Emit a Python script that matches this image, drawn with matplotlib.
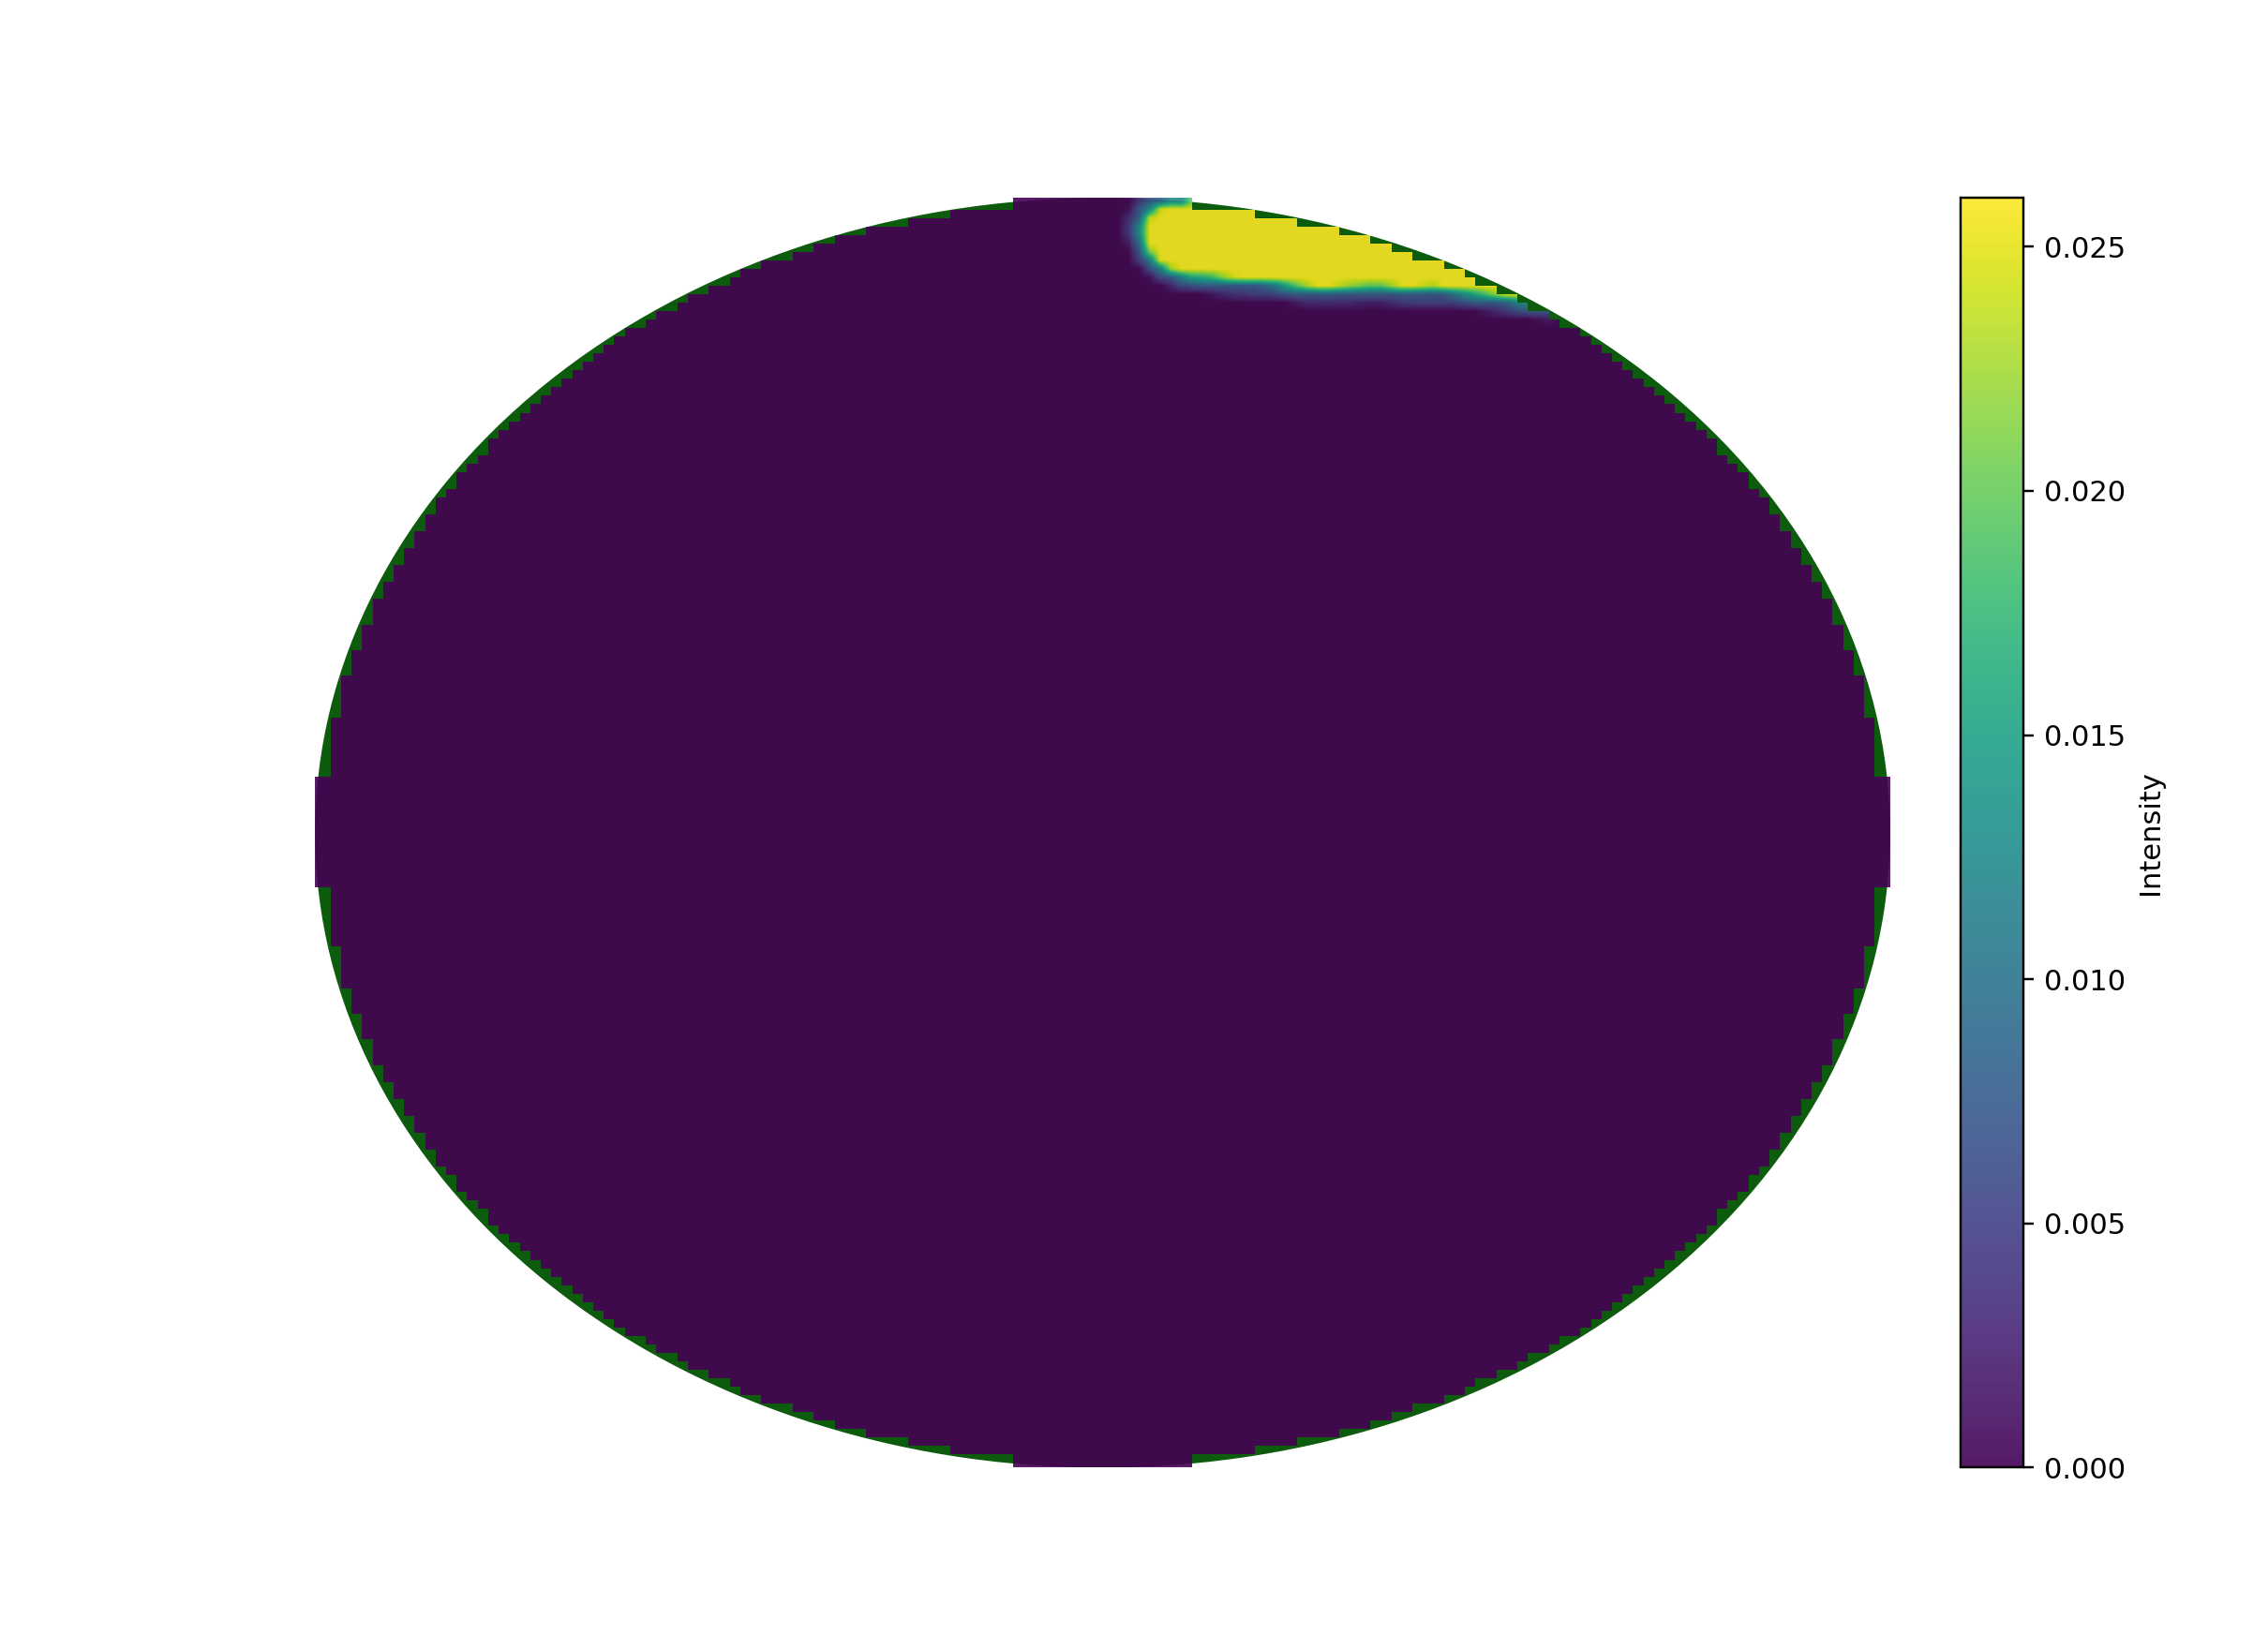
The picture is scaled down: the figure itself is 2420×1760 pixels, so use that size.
import numpy as np
import matplotlib.pyplot as plt
from matplotlib.patches import Ellipse
from matplotlib.path import Path

# grid and domain
nx, ny = 150, 150
half_w, half_h = 1.24, 1.0
mask_w = 1.2371          # slightly tighter in x than the drawn ellipse
vmin, vmax = 0.0, 0.026

# hot spot (domain units)
core_val = 0.026
core_x = [0.0598, 0.0643, 0.0746, 0.0923, 0.1145, 0.1366, 0.1514, 0.4764, 0.7718,
          0.7127, 0.6610, 0.6477, 0.6034, 0.5473, 0.5177, 0.4793, 0.4335, 0.3774,
          0.3493, 0.3198, 0.2637, 0.2075, 0.1662, 0.1322, 0.1071, 0.0820, 0.0657]
core_y = [0.9468, 0.9631, 0.9778, 0.9882, 0.9911, 0.9897, 1.0236, 0.9719, 0.8981,
          0.8390, 0.8360, 0.8375, 0.8449, 0.8523, 0.8552, 0.8523, 0.8582, 0.8552,
          0.8523, 0.8552, 0.8656, 0.8671, 0.8730, 0.8744, 0.8818, 0.8966, 0.9202]

# faint rim around it
halo_val = 0.007
halo_x = [0.0391, 0.0436, 0.0569, 0.0805, 0.1514, 0.4764, 0.8013, 0.7054,
          0.6477, 0.6034, 0.5473, 0.4793, 0.4335, 0.3774, 0.3198, 0.2637,
          0.2075, 0.1662, 0.1219, 0.0849, 0.0554]
halo_y = [0.9468, 0.9719, 0.9941, 1.0103, 1.0236, 0.9719, 0.8833, 0.8095,
          0.8168, 0.8242, 0.8316, 0.8316, 0.8375, 0.8346, 0.8346, 0.8449,
          0.8464, 0.8523, 0.8567, 0.8715, 0.8981]

# pixel centres
xe = np.linspace(-half_w, half_w, nx + 1)
ye = np.linspace(half_h, -half_h, ny + 1)
xc = (xe[:-1] + xe[1:]) / 2
yc = (ye[:-1] + ye[1:]) / 2
dx = xe[1] - xe[0]
dy = ye[0] - ye[1]
X, Y = np.meshgrid(xc, yc)


def coverage(px, py, k=8):
    # share of each cell covered by the outline
    path = Path(np.column_stack([px, py]))
    off = (np.arange(k) + 0.5) / k - 0.5
    cov = np.zeros(X.shape)
    for ox in off:
        for oy in off:
            p = np.column_stack([(X + ox * dx).ravel(), (Y + oy * dy).ravel()])
            cov += path.contains_points(p).reshape(X.shape)
    return cov / (k * k)


cov_core = coverage(core_x, core_y)
cov_halo = np.maximum(coverage(halo_x, halo_y), cov_core)
Z = core_val * cov_core + halo_val * (cov_halo - cov_core)

inside = (X / mask_w) ** 2 + (Y / half_h) ** 2 <= 1
Z = np.ma.masked_array(Z, ~inside)

fig, ax = plt.subplots(figsize=(11, 8), dpi=220)
ax.add_patch(Ellipse((0, 0), 2 * half_w, 2 * half_h, facecolor="#0d5c0d",
                     edgecolor="none", zorder=1))
im = ax.imshow(Z, cmap="viridis", vmin=vmin, vmax=vmax, origin="upper",
               extent=(-half_w, half_w, -half_h, half_h),
               interpolation="bilinear", alpha=0.9, zorder=2)
ax.axis("off")

cbar = fig.colorbar(im, ax=ax, fraction=0.046, pad=0.04)
cbar.set_label("Intensity")

fig.savefig("out.png", dpi=220)
